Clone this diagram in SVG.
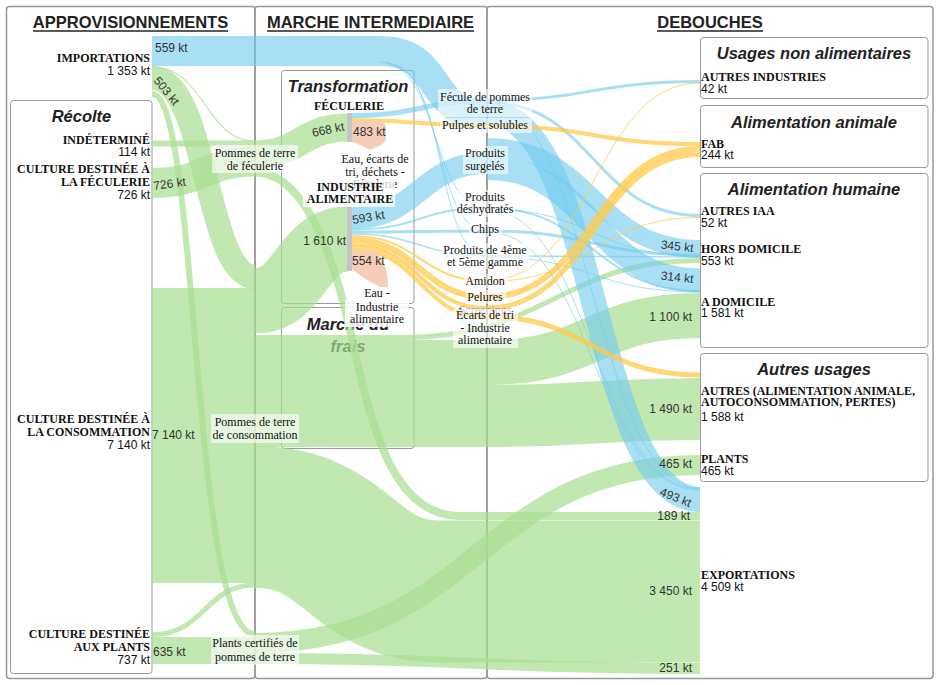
<svg xmlns="http://www.w3.org/2000/svg" width="940" height="685" viewBox="0 0 940 685">
<style>
.col{fill:none;stroke:#999;stroke-width:1.5}
.box{fill:#fff;stroke:#999;stroke-width:1}
.hdr{font-family:"Liberation Sans",Arial,sans-serif;font-weight:bold;font-size:16.5px;fill:#222;text-anchor:middle}
.ul{stroke:#222;stroke-width:1.5}
.ttl{font-family:"Liberation Sans",Arial,sans-serif;font-weight:bold;font-style:italic;font-size:16.5px;fill:#222;text-anchor:middle}
.lk{fill:none}
.g{stroke:#a8de90;stroke-opacity:0.7}
.b{stroke:#6fc9ef;stroke-opacity:0.6}
.y{stroke:#ffc94a;stroke-opacity:0.75}
.loss{fill:#f6cdb9}
.bar{fill:#c4c4c4}
.nm{font-family:"Liberation Serif","Times New Roman",serif;font-weight:bold;font-size:12px;fill:#111}
.val{font-family:"Liberation Sans",Arial,sans-serif;font-size:12px;fill:#111}
.lv{font-family:"Liberation Sans",Arial,sans-serif;font-size:12px;fill:#333}
.pl{font-family:"Liberation Serif","Times New Roman",serif;font-size:12px;fill:#111;text-anchor:middle}
.bg{fill:#fff;fill-opacity:0.6}
.end{text-anchor:end}
.mid{text-anchor:middle}
</style>

<g id="frames">
<rect class="col" x="6.5" y="6.5" width="248.5" height="672" rx="3"/>
<rect class="col" x="255" y="6.5" width="232" height="672" rx="3"/>
<rect class="col" x="487" y="6.5" width="446" height="672" rx="3"/>
<text class="hdr" x="130.5" y="28">APPROVISIONNEMENTS</text>
<line class="ul" x1="33" y1="31" x2="228" y2="31"/>
<text class="hdr" x="370.5" y="28">MARCHE INTERMEDIAIRE</text>
<line class="ul" x1="267" y1="31" x2="474" y2="31"/>
<text class="hdr" x="710" y="28">DEBOUCHES</text>
<line class="ul" x1="657" y1="31" x2="763" y2="31"/>
<rect class="box" x="10.5" y="100.5" width="141.5" height="573" rx="3"/>
<text class="ttl" x="81.5" y="122">Récolte</text>
<rect class="box" x="281.5" y="70.5" width="132.5" height="233" rx="3"/>
<text class="ttl" x="348" y="92">Transformation</text>
<rect class="box" x="281.5" y="307.5" width="132.5" height="141" rx="3"/>
<text class="ttl" x="348" y="330">Marché du</text>
<text class="ttl" x="348" y="352">frais</text>
<rect class="box" x="700.5" y="37.5" width="227.5" height="61" rx="3"/>
<text class="ttl" x="814" y="59">Usages non alimentaires</text>
<rect class="box" x="700.5" y="105.5" width="227.5" height="62" rx="3"/>
<text class="ttl" x="814" y="128">Alimentation animale</text>
<rect class="box" x="700.5" y="173.5" width="227.5" height="174" rx="3"/>
<text class="ttl" x="814" y="195">Alimentation humaine</text>
<rect class="box" x="700.5" y="353.5" width="227.5" height="128" rx="3"/>
<text class="ttl" x="814" y="375">Autres usages</text>
</g>

<g id="links" class="lk">
<!-- green -->
<path class="g" stroke-width="295" d="M152,435.5 L255,435.5"/>
<path class="g" stroke-width="24" d="M152,78 C208,78 205,277 255,277"/>
<path class="g" stroke-width="1.2" d="M152,67 C205,67 205,141 255,141"/>
<path class="g" stroke-width="6" d="M152,94 C200,94 190,634 255,634"/>
<path class="g" stroke-width="6" d="M152,143.5 L255,143.5"/>
<path class="g" stroke-width="30" d="M152,183 C205,183 205,161.5 255,161.5"/>
<path class="g" stroke-width="28" d="M255,154.5 C301,154.5 301,127.5 348,127.5"/>
<path class="g" stroke-width="8" d="M255,172.5 C300,172.5 330,240 350,330 C370,420 390,516 460,516 L700,516"/>
<path class="g" stroke-width="5" d="M152,634.5 C205,634.5 205,585 255,585"/>
<path class="g" stroke-width="27" d="M152,650.5 L255,650.5"/>
<path class="g" stroke-width="65" d="M255,301 C301,301 301,239 348,239"/>
<path class="g" stroke-width="5" d="M255,337.5 L400,337.5 C550,337.5 560,260.5 700,260.5"/>
<path class="g" stroke-width="45" d="M255,362.5 L487,362.5 C593,362.5 593,315.5 700,315.5"/>
<path class="g" stroke-width="62" d="M255,416 L487,416 C593,416 593,409 700,409"/>
<path class="g" stroke-width="142" d="M255,517 C350,517 350,591.5 440,591.5 L700,591.5"/>
<path class="g" stroke-width="20" d="M255,643 C478,643 478,465 700,465"/>
<path class="g" stroke-width="11" d="M255,658.5 C478,658.5 478,668.5 700,668.5"/>
<!-- blue -->
<path class="b" stroke-width="30" d="M152,51 L380,51 C445,51 425,115 487,115"/>
<path class="b" stroke-width="1" d="M380,62 C440,62 430,208 487,208"/>
<path class="b" stroke-width="1" d="M385,63 C445,63 432,231 487,231"/>
<path class="b" stroke-width="1" d="M388,64 C448,64 434,256 487,256"/>
<path class="b" stroke-width="25" d="M487,112.5 C600,112.5 590,499.5 700,499.5"/>
<path class="b" stroke-width="18" d="M487,147 C593,147 593,249 700,249"/>
<path class="b" stroke-width="24" d="M487,168 C593,168 593,280.5 700,280.5"/>
<path class="b" stroke-width="22" d="M352,218 C420,218 420,163 487,163"/>
<path class="b" stroke-width="5" d="M352,115.5 C420,115.5 420,101 487,101"/>
<path class="b" stroke-width="3" d="M487,100 C593,100 593,81.5 700,81.5"/>
<path class="b" stroke-width="3" d="M487,102 C593,102 593,215.5 700,215.5"/>
<path class="b" stroke-width="1" d="M487,103 C593,103 593,488 700,488"/>
<path class="b" stroke-width="2" d="M352,229.5 C420,229.5 420,208 487,208"/>
<path class="b" stroke-width="3" d="M352,232 C420,232 420,231 487,231"/>
<path class="b" stroke-width="1.5" d="M352,234 C420,234 420,256 487,256"/>
<path class="b" stroke-width="2" d="M487,208 C593,208 593,291 700,291"/>
<path class="b" stroke-width="1" d="M487,209 C593,209 593,256 700,256"/>
<path class="b" stroke-width="3" d="M487,231 C593,231 593,255 700,255"/>
<path class="b" stroke-width="1.5" d="M487,256 L700,257"/>
<path class="b" stroke-width="1" d="M487,257 C593,257 593,292 700,292"/>
<path class="b" stroke-width="1" d="M487,210 C593,210 593,489 700,489"/>
<path class="b" stroke-width="1" d="M487,232 C593,232 593,490 700,490"/>
<!-- yellow -->
<path class="y" stroke-width="4" d="M352,120 C420,120 420,126 487,126"/>
<path class="y" stroke-width="4" d="M487,126 C593,126 593,144 700,144"/>
<path class="y" stroke-width="2" d="M352,236 C420,236 420,281 487,281"/>
<path class="y" stroke-width="1" d="M487,280.5 C593,280.5 593,83 700,83"/>
<path class="y" stroke-width="1" d="M487,281.5 C593,281.5 593,217.5 700,217.5"/>
<path class="y" stroke-width="6" d="M352,240 C420,240 420,297 487,297"/>
<path class="y" stroke-width="6" d="M487,297 C593,297 593,149 700,149"/>
<path class="y" stroke-width="4" d="M352,245 C420,245 420,308 487,308"/>
<path class="y" stroke-width="5" d="M487,308 C593,308 593,154.5 700,154.5"/>
<path class="y" stroke-width="4" d="M352,249 C420,249 420,317 487,317"/>
<path class="y" stroke-width="5" d="M487,317 C593,317 593,375 700,375"/>
<!-- losses -->
<path class="loss" d="M352,121 L378,121 Q386,121 386,129 L386,137 Q386,143 379,146 L370,150 L362,146 Q356,143 352,142 Z"/>
<path class="loss" d="M352,251 L374,251 C382,255 388,268 388,287 L380,287 C370,282 360,276 352,269 Z"/>
</g>

<g id="node-importations">
<text class="nm end" x="150" y="62">IMPORTATIONS</text>
<text class="val end" x="150" y="75">1 353 kt</text>
<text class="lv" x="155" y="52">559 kt</text>
<text class="lv" transform="translate(153,81) rotate(50)">503 kt</text>
</g>
<g id="node-indetermine">
<text class="nm end" x="150" y="144">INDÉTERMINÉ</text>
<text class="val end" x="150" y="156">114 kt</text>
</g>
<g id="node-culture-feculerie">
<text class="nm end" x="150" y="173">CULTURE DESTINÉE À</text>
<text class="nm end" x="150" y="186">LA FÉCULERIE</text>
<text class="val end" x="150" y="199">726 kt</text>
<text class="lv" transform="translate(154,190) rotate(-8)">726 kt</text>
</g>
<g id="node-culture-consommation">
<text class="nm end" x="150" y="423">CULTURE DESTINÉE À</text>
<text class="nm end" x="150" y="436">LA CONSOMMATION</text>
<text class="val end" x="150" y="449">7 140 kt</text>
<text class="lv" x="152" y="439">7 140 kt</text>
</g>
<g id="node-culture-plants">
<text class="nm end" x="150" y="638">CULTURE DESTINÉE</text>
<text class="nm end" x="150" y="651">AUX PLANTS</text>
<text class="val end" x="150" y="664">737 kt</text>
<text class="lv" x="153" y="656">635 kt</text>
</g>

<g id="node-pdt-feculerie">
<rect class="bg" x="212" y="145" width="86" height="28"/>
<text class="pl" x="255" y="157">Pommes de terre</text>
<text class="pl" x="255" y="170">de féculerie</text>
</g>
<g id="node-pdt-consommation">
<rect class="bg" x="211" y="414" width="88" height="29"/>
<text class="pl" x="255" y="426">Pommes de terre</text>
<text class="pl" x="255" y="439">de consommation</text>
</g>
<g id="node-plants-certifies">
<rect class="bg" x="211" y="635" width="88" height="30"/>
<text class="pl" x="255" y="647">Plants certifiés de</text>
<text class="pl" x="255" y="661">pommes de terre</text>
</g>

<g id="node-feculerie">
<rect class="bar" x="347" y="113" width="5" height="29"/>
<text class="nm mid" x="349" y="110">FÉCULERIE</text>
<text class="lv" transform="translate(313,137) rotate(-12)">668 kt</text>
<text class="lv" x="353" y="136">483 kt</text>
</g>
<g id="node-eau-feculerie">
<text class="pl" x="375" y="163">Eau, écarts de</text>
<text class="pl" x="375" y="176">tri, déchets -</text>
<text class="pl" x="375" y="188">Féculerie</text>
</g>
<g id="node-industrie">
<rect class="bar" x="347" y="207" width="5" height="64"/>
<rect fill="#fff" fill-opacity="0.75" x="303" y="180" width="92" height="27"/>
<text class="nm mid" x="350" y="191">INDUSTRIE</text>
<text class="nm mid" x="350" y="203">ALIMENTAIRE</text>
<text class="lv" transform="translate(353,224) rotate(-10)">593 kt</text>
<text class="lv end" x="346" y="245">1 610 kt</text>
<text class="lv" x="352" y="265">554 kt</text>
</g>
<g id="node-eau-ia">
<rect fill="#fff" fill-opacity="0.85" x="345" y="300" width="64" height="27"/>
<text class="pl" x="377" y="297">Eau -</text>
<text class="pl" x="377" y="311">Industrie</text>
<text class="pl" x="377" y="323">alimentaire</text>
</g>

<g id="node-fecule">
<rect class="bg" x="438" y="89" width="94" height="28"/>
<text class="pl" x="485" y="101">Fécule de pommes</text>
<text class="pl" x="485" y="113">de terre</text>
</g>
<g id="node-pulpes">
<rect class="bg" x="440" y="118" width="92" height="15"/>
<text class="pl" x="485" y="129">Pulpes et solubles</text>
</g>
<g id="node-surgeles">
<rect class="bg" x="463" y="146" width="45" height="28"/>
<text class="pl" x="485" y="157">Produits</text>
<text class="pl" x="485" y="170">surgelés</text>
</g>
<g id="node-deshydrates">
<rect class="bg" x="456" y="190" width="59" height="27"/>
<text class="pl" x="485" y="201">Produits</text>
<text class="pl" x="485" y="213">déshydratés</text>
</g>
<g id="node-chips">
<rect class="bg" x="469" y="222" width="33" height="15"/>
<text class="pl" x="485" y="233">Chips</text>
</g>
<g id="node-4eme-gamme">
<rect class="bg" x="441" y="243" width="89" height="26"/>
<text class="pl" x="485" y="254">Produits de 4ème</text>
<text class="pl" x="485" y="266">et 5ème gamme</text>
</g>
<g id="node-amidon">
<rect class="bg" x="464" y="274" width="44" height="14"/>
<text class="pl" x="485" y="285">Amidon</text>
</g>
<g id="node-pelures">
<rect class="bg" x="466" y="290" width="40" height="14"/>
<text class="pl" x="485" y="301">Pelures</text>
</g>
<g id="node-screenings">
<text class="pl" x="485" y="314" fill="#999" style="fill:#9a9a9a">Screenings</text>
</g>
<g id="node-ecarts">
<rect class="bg" x="453" y="309" width="65" height="39"/>
<text class="pl" x="485" y="319">Écarts de tri</text>
<text class="pl" x="485" y="332">- Industrie</text>
<text class="pl" x="485" y="344">alimentaire</text>
</g>

<g id="node-autres-industries">
<text class="nm" x="701" y="81">AUTRES INDUSTRIES</text>
<text class="val" x="701" y="93">42 kt</text>
</g>
<g id="node-fab">
<text class="nm" x="701" y="148">FAB</text>
<text class="val" x="701" y="159">244 kt</text>
</g>
<g id="node-autres-iaa">
<text class="nm" x="701" y="215">AUTRES IAA</text>
<text class="val" x="701" y="227">52 kt</text>
</g>
<g id="node-hors-domicile">
<text class="nm" x="701" y="253">HORS DOMICILE</text>
<text class="val" x="701" y="265">553 kt</text>
<text class="lv end" x="693" y="252" transform="rotate(6,693,252)">345 kt</text>
</g>
<g id="node-a-domicile">
<text class="nm" x="701" y="306">A DOMICILE</text>
<text class="val" x="701" y="317">1 581 kt</text>
<text class="lv end" x="693" y="283" transform="rotate(6,693,283)">314 kt</text>
<text class="lv end" x="692" y="321">1 100 kt</text>
</g>
<g id="node-autres">
<text class="nm" x="701" y="395">AUTRES (ALIMENTATION ANIMALE,</text>
<text class="nm" x="701" y="406">AUTOCONSOMMATION, PERTES)</text>
<text class="val" x="701" y="421">1 588 kt</text>
<text class="lv end" x="692" y="413">1 490 kt</text>
</g>
<g id="node-plants">
<text class="nm" x="701" y="463">PLANTS</text>
<text class="val" x="701" y="475">465 kt</text>
<text class="lv end" x="692" y="468">465 kt</text>
</g>
<g id="node-exportations">
<text class="nm" x="701" y="579">EXPORTATIONS</text>
<text class="val" x="701" y="591">4 509 kt</text>
<text class="lv" transform="translate(659,495) rotate(22)">493 kt</text>
<text class="lv end" x="690" y="520">189 kt</text>
<text class="lv end" x="692" y="595">3 450 kt</text>
<text class="lv end" x="692" y="672">251 kt</text>
</g>
</svg>
